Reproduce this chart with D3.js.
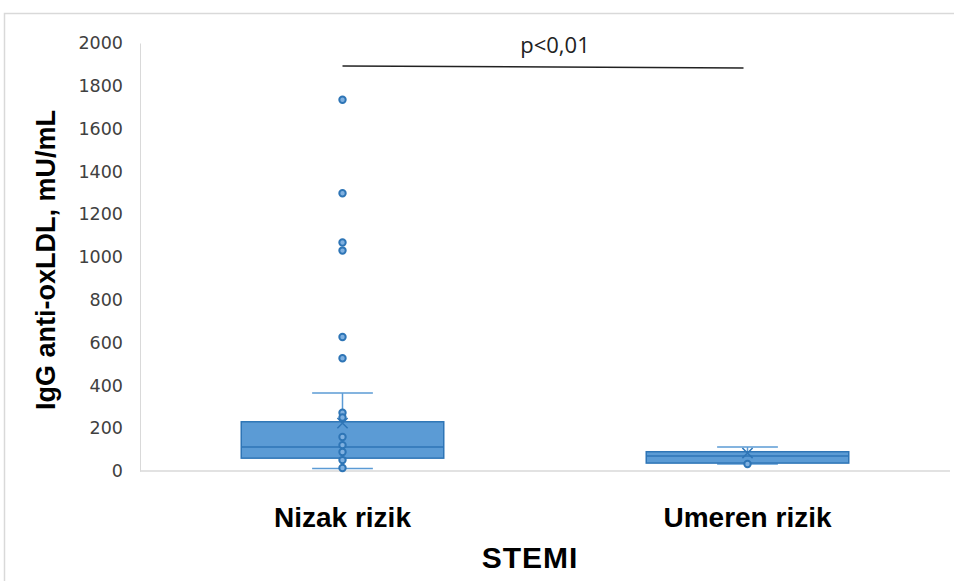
<!DOCTYPE html>
<html>
<head>
<meta charset="utf-8">
<script src="https://cdn.jsdelivr.net/npm/d3@7"></script>
<style>
body{margin:0;background:#fff;}
</style>
</head>
<body>
<svg></svg>
<script>
var categories=["Nizak rizik","Umeren rizik"]
var q1=[60,37]
var median=[112,70]
var q3=[230,90]
var whiskerLow=[12,33]
var whiskerHigh=[364,112]
var means=[224,84]
var points=[
  [1735,1298,1068,1030,626,527,272,250,159,121,89,51,14],
  [33]
]
var yTicks=[0,200,400,600,800,1000,1200,1400,1600,1800,2000]

var screen={width:954,height:581}
var margins={top:43,right:4,bottom:110,left:140}

var svg=d3.select("svg")
  .attr("width",screen.width)
  .attr("height",screen.height)

// outer frame
svg.append("rect")
  .attr("x",4.5).attr("y",13.5)
  .attr("width",screen.width).attr("height",screen.height)
  .attr("fill","none").attr("stroke","#d9d9d9").attr("stroke-width",1.5)

var width=screen.width-margins.left-margins.right
var height=screen.height-margins.top-margins.bottom

var xScale=d3.scaleBand()
  .domain(categories)
  .range([margins.left,margins.left+width])

var yScale=d3.scaleLinear()
  .domain([0,2000])
  .range([margins.top+height,margins.top])

// y axis
var yAxis=d3.axisLeft(yScale).tickValues(yTicks).tickSize(0).tickPadding(17).tickFormat(d3.format("d"))
var ya=svg.append("g")
  .attr("transform","translate("+margins.left+",0)")
  .call(yAxis)
ya.select(".domain").attr("stroke","#d9d9d9")
ya.selectAll("text")
  .attr("font-family","DejaVu Sans, sans-serif")
  .attr("font-size",17.5)
  .attr("fill","#404040")

// baseline
svg.append("line")
  .attr("x1",margins.left).attr("x2",margins.left+width)
  .attr("y1",yScale(0)).attr("y2",yScale(0))
  .attr("stroke","#d9d9d9").attr("stroke-width",1.5)

var boxColor="#5b9bd5"
var dark="#2e75b6"
var bw=xScale.bandwidth()

categories.forEach(function(cat,i)
{
  var cx=xScale(cat)+bw/2
  var half=bw/4
  var cap=bw*0.075
  var g=svg.append("g")
  // whiskers
  g.append("line")
    .attr("x1",cx).attr("x2",cx)
    .attr("y1",yScale(whiskerHigh[i])).attr("y2",yScale(whiskerLow[i]))
    .attr("stroke",boxColor).attr("stroke-width",1.5)
  g.selectAll(".cap")
    .data([whiskerHigh[i],whiskerLow[i]])
    .enter()
    .append("line")
    .attr("x1",cx-cap).attr("x2",cx+cap)
    .attr("y1",function(v){return yScale(v)})
    .attr("y2",function(v){return yScale(v)})
    .attr("stroke",boxColor).attr("stroke-width",1.5)
  // box
  g.append("rect")
    .attr("x",cx-half).attr("width",half*2)
    .attr("y",yScale(q3[i]))
    .attr("height",yScale(q1[i])-yScale(q3[i]))
    .attr("fill",boxColor).attr("stroke",dark).attr("stroke-width",1.5)
  g.append("line")
    .attr("x1",cx-half).attr("x2",cx+half)
    .attr("y1",yScale(median[i])).attr("y2",yScale(median[i]))
    .attr("stroke",dark).attr("stroke-width",1.5)
  // points
  g.selectAll("circle")
    .data(points[i])
    .enter()
    .append("circle")
    .attr("cx",cx)
    .attr("cy",function(v){return yScale(v)})
    .attr("r",3.2)
    .attr("fill","#7fb0e0")
    .attr("stroke",dark)
    .attr("stroke-width",2)
  // mean
  g.append("path")
    .attr("d",d3.symbol(d3.symbolX,70)())
    .attr("transform","translate("+cx+","+yScale(means[i])+")")
    .attr("fill","none").attr("stroke",dark).attr("stroke-width",1.5)
})

// category labels
svg.selectAll(".cat")
  .data(categories)
  .enter()
  .append("text")
  .attr("x",function(c){return xScale(c)+bw/2})
  .attr("y",527)
  .attr("text-anchor","middle")
  .attr("font-family","Liberation Sans, Arial, sans-serif")
  .attr("font-weight","bold")
  .attr("font-size",28)
  .attr("fill","#000")
  .text(function(c){return c})

svg.append("text")
  .attr("x",xScale.range()[0]+(xScale.range()[1]-xScale.range()[0])/2-15)
  .attr("y",568)
  .attr("text-anchor","middle")
  .attr("font-family","Liberation Sans, Arial, sans-serif")
  .attr("font-weight","bold")
  .attr("font-size",30)
  .attr("letter-spacing",1)
  .text("STEMI")

svg.append("text")
  .attr("transform","translate(55,"+(yScale(1000)+3)+") rotate(-90)")
  .attr("text-anchor","middle")
  .attr("font-family","Liberation Sans, Arial, sans-serif")
  .attr("font-weight","bold")
  .attr("font-size",27)
  .text("IgG anti-oxLDL, mU/mL")

// significance line
var sx1=xScale(categories[0])+bw/2
var sx2=xScale(categories[1])+bw/2-4
svg.append("line")
  .attr("x1",sx1).attr("x2",sx2)
  .attr("y1",66).attr("y2",68)
  .attr("stroke","#222").attr("stroke-width",1.5)
svg.append("text")
  .attr("x",(sx1+sx2)/2+12)
  .attr("y",53)
  .attr("text-anchor","middle")
  .attr("font-family","Open Sans, sans-serif")
  .attr("font-size",22)
  .attr("fill","#222")
  .text("p<0,01")
</script>
</body>
</html>
